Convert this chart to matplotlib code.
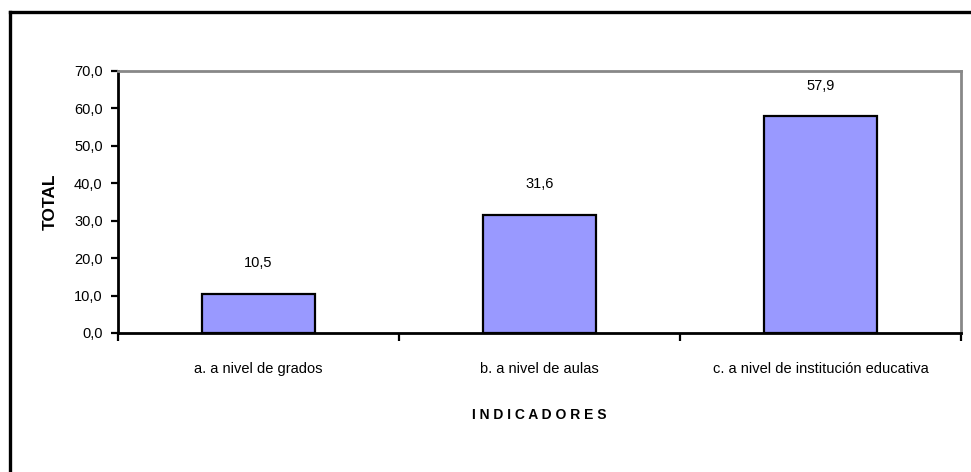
import numpy as np
import matplotlib.pyplot as plt
from matplotlib.lines import Line2D

plt.rcParams['font.family'] = ['Liberation Sans', 'DejaVu Sans']

# chart data
categorias = ["a. a nivel de grados", "b. a nivel de aulas", "c. a nivel de institución educativa"]
valores = [10.5, 31.6, 57.9]
y_ticks = [0, 10, 20, 30, 40, 50, 60, 70]


def fmt(v):
	# decimal comma, one digit
	return ("%.1f" % v).replace(".", ",")


fig = plt.figure(figsize=(9.71, 4.72), dpi=100)
ax = fig.add_axes([0.1215, 0.2945, 0.8682, 0.5551])

x = np.arange(len(categorias))
ax.bar(x, valores, width=0.4, color='#9999ff', edgecolor='black', linewidth=1.6, zorder=3)

# value labels above each bar
for xi, v in zip(x, valores):
	ax.annotate(fmt(v), (xi, v), xytext=(0, 22), textcoords='offset points',
		ha='center', va='center', fontsize=10.5)

ax.set_xlim(-0.5, len(categorias) - 0.5)
ax.set_ylim(0, 70)

# y axis
ax.set_yticks(y_ticks)
ax.set_yticklabels([fmt(t) for t in y_ticks], fontsize=10.5)
ax.tick_params(axis='y', direction='out', length=5, width=1.6, pad=6)

# x axis: ticks between categories, labels at the centres
ax.set_xticks(np.arange(len(categorias) + 1) - 0.5)
ax.set_xticklabels([])
ax.tick_params(axis='x', which='major', direction='out', length=6, width=1.6)
ax.set_xticks(x, minor=True)
ax.set_xticklabels(categorias, minor=True, fontsize=10.5)
ax.tick_params(axis='x', which='minor', length=0, pad=21)

for side in ['left', 'bottom']:
	ax.spines[side].set_color('black')
	ax.spines[side].set_linewidth(2)
for side in ['top', 'right']:
	ax.spines[side].set_color('#888888')
	ax.spines[side].set_linewidth(2)

ax.set_xlabel("I N D I C A D O R E S", fontsize=10, fontweight='bold', labelpad=23)
ax.set_ylabel("TOTAL", fontsize=12.5, fontweight='black', labelpad=12)

# outer chart frame
fw, fh = 971, 472
fig.add_artist(Line2D([10 / fw, 10 / fw], [0, 1 - 12 / fh], transform=fig.transFigure,
	color='black', linewidth=2.4))
fig.add_artist(Line2D([10 / fw, 1], [1 - 12 / fh, 1 - 12 / fh], transform=fig.transFigure,
	color='black', linewidth=2.4))

fig.savefig('out.png', dpi=100)
